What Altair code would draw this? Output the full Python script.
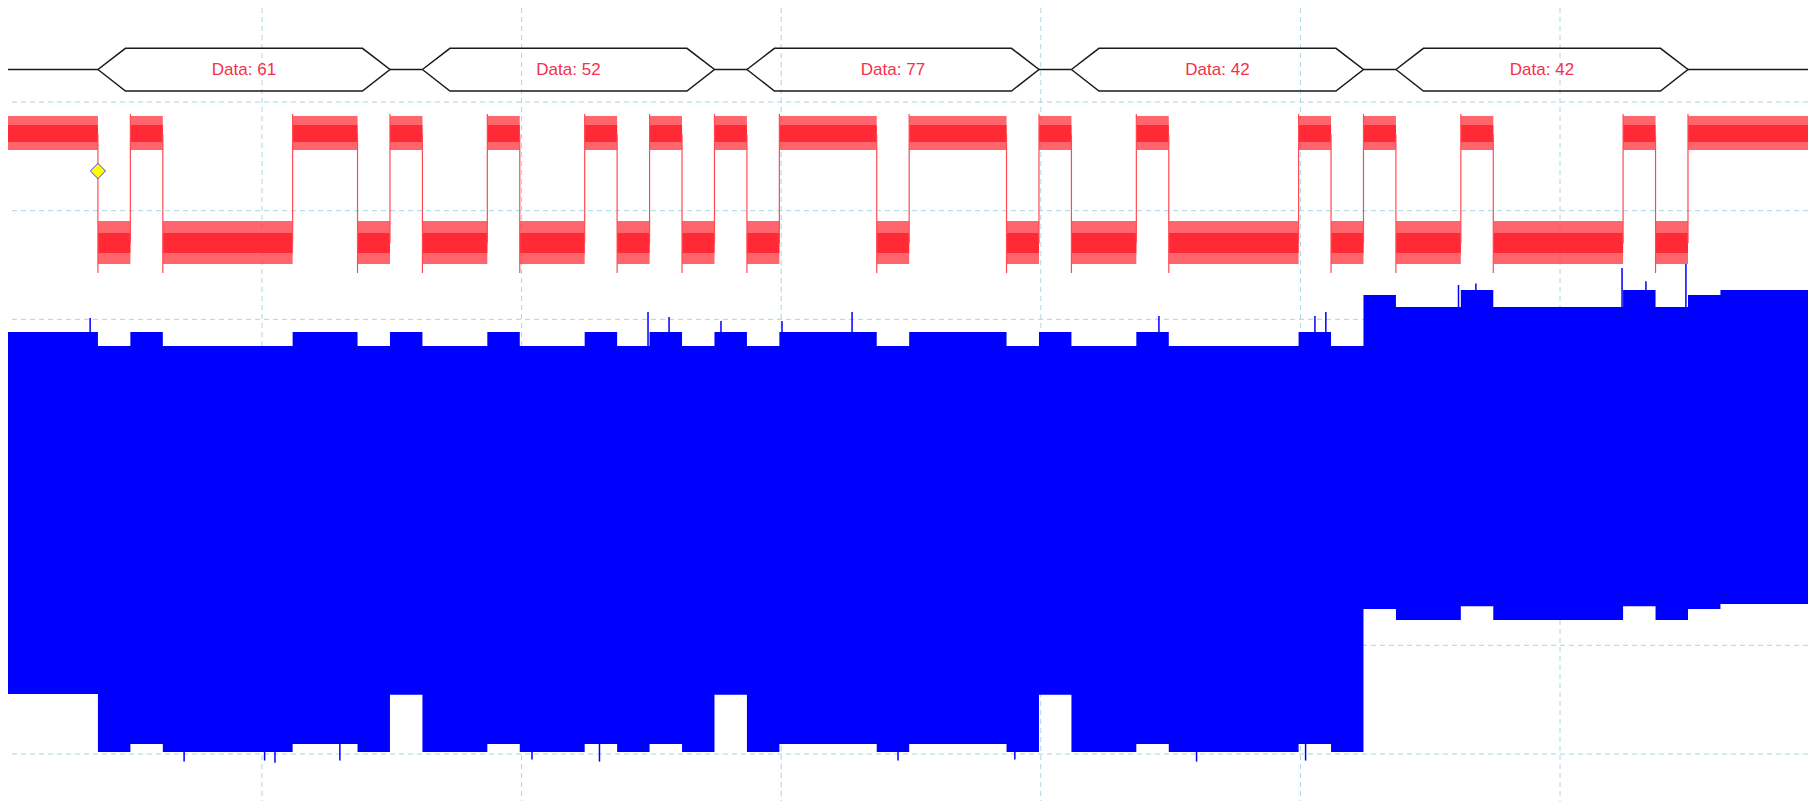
import altair as alt
import pandas as pd

# ---------------- data ----------------
# decoded UART bytes shown in the bus row (hex), frame start times (ms)
BYTE_LABELS = ["61", "52", "77", "42", "42"]
FRAME_START_MS = [0.368, 1.618, 2.868, 4.118, 5.368]
BIT_MS = 0.125          # 8 kBd
HEX_SLANT_MS = 0.106
STEP_MS = 5.243         # time where the blue envelope steps up

# visible window (ms / divisions)
T_MIN, T_MAX = 0.0216, 6.9553
V_MIN, V_MAX = -0.4325, 6.865

GRID_T = [1, 2, 3, 4, 5, 6]
GRID_V = [0, 1, 2, 3, 4, 5, 6]

# bus row
BUS_MID, BUS_TOP, BUS_BOT = 6.299, 6.494, 6.101

# red channel bands (divisions)
RED_OUTER = {1: (5.558, 5.871), 0: (4.509, 4.905)}
RED_CORE = {1: (5.632, 5.788), 0: (4.611, 4.795)}
EDGE_FALL = (5.70, 4.426)
EDGE_RISE = (4.70, 5.889)

# blue envelope levels (divisions)
BLUE_TOP_LEFT = {"idle": 3.883, "stop": 3.883, "high": 3.883, "low": 3.754}
BLUE_BOT_LEFT = {"idle": 0.552, "stop": 0.545, "high": 0.092, "low": 0.018}
BLUE_TOP_RIGHT = {"idle": 4.270, "stop": 4.224, "high": 4.270, "low": 4.113}
BLUE_BOT_RIGHT = {"idle": 1.380, "stop": 1.334, "high": 1.360, "low": 1.233}

# individual spikes on the blue envelope
SPIKE_TOP_T = [0.338, 2.487, 2.568, 2.768, 3.003, 3.273, 4.455, 5.056, 5.098,
               5.609, 5.676, 6.239, 6.331, 6.485]
SPIKE_TOP_V = [4.012, 4.067, 4.021, 3.985, 3.985, 4.067, 4.030, 4.030, 4.067,
               4.316, 4.330, 4.472, 4.350, 4.509]
SPIKE_BOT_T = [0.7, 1.01, 1.05, 1.3, 2.04, 2.3, 3.45, 3.9, 4.6, 5.02]
SPIKE_BOT_V = [-0.07, -0.06, -0.08, -0.06, -0.05, -0.07, -0.06, -0.05, -0.07, -0.06]

TRIGGER_T, TRIGGER_V = 0.368, 5.365

RED = "#ff2a35"
BLUE = "#0000ff"
GRID = "#a9d6e5"

# ---------------- build segments from the decoded bytes ----------------
segs = [(T_MIN, FRAME_START_MS[0], 1, "idle")]
for lab, s in zip(BYTE_LABELS, FRAME_START_MS):
    val = int(lab, 16)
    segs.append((s, s + BIT_MS, 0, "start"))
    for i in range(8):
        segs.append((s + BIT_MS * (1 + i), s + BIT_MS * (2 + i), (val >> i) & 1, "data"))
    segs.append((s + BIT_MS * 9, s + BIT_MS * 10, 1, "stop"))
segs.append((FRAME_START_MS[-1] + BIT_MS * 10, T_MAX, 1, "idle"))

red_rows, blue_rows, edge_rows = [], [], []
prev = None
for t0, t1, lvl, kind in segs:
    red_rows.append(dict(t=t0, o0=RED_OUTER[lvl][0], o1=RED_OUTER[lvl][1],
                         c0=RED_CORE[lvl][0], c1=RED_CORE[lvl][1]))
    key = kind if kind in ("idle", "stop") else ("high" if lvl else "low")
    if t0 < STEP_MS - 1e-6:
        top, bot = BLUE_TOP_LEFT[key], BLUE_BOT_LEFT[key]
    else:
        top, bot = BLUE_TOP_RIGHT[key], BLUE_BOT_RIGHT[key]
    blue_rows.append(dict(t=t0, top=top, bot=bot))
    if prev is not None and prev != lvl:
        a, b = EDGE_FALL if prev == 1 else EDGE_RISE
        edge_rows.append(dict(t=t0, a=a, b=b))
    prev = lvl
# closing points at the right edge
red_rows.append(dict(red_rows[-1], t=T_MAX))
blue_rows.append(dict(blue_rows[-1], t=T_MAX))

red_df = pd.DataFrame(red_rows)
blue_df = pd.DataFrame(blue_rows)
edge_df = pd.DataFrame(edge_rows)

hex_rows, bus_rows, label_rows = [], [], []
last_end = T_MIN
for k, (lab, s) in enumerate(zip(BYTE_LABELS, FRAME_START_MS)):
    e = s + BIT_MS * 9
    pts = [(s, BUS_MID), (s + HEX_SLANT_MS, BUS_TOP), (e - HEX_SLANT_MS, BUS_TOP),
           (e, BUS_MID), (e - HEX_SLANT_MS, BUS_BOT), (s + HEX_SLANT_MS, BUS_BOT),
           (s, BUS_MID)]
    for j, (t, v) in enumerate(pts):
        hex_rows.append(dict(frame=k, order=j, t=t, v=v))
    bus_rows.append(dict(t0=last_end, t1=s, v=BUS_MID))
    last_end = e
    label_rows.append(dict(t=(s + e) / 2, v=BUS_MID, text="Data: " + lab))
bus_rows.append(dict(t0=last_end, t1=T_MAX, v=BUS_MID))

hex_df = pd.DataFrame(hex_rows)
bus_df = pd.DataFrame(bus_rows)
label_df = pd.DataFrame(label_rows)

xs = alt.Scale(domain=[T_MIN, T_MAX], nice=False, zero=False)
ys = alt.Scale(domain=[V_MIN, V_MAX], nice=False, zero=False)

def X(f):
    return alt.X(f, type="quantitative", scale=xs, axis=None)

def Y(f):
    return alt.Y(f, type="quantitative", scale=ys, axis=None)

grid_v = alt.Chart(pd.DataFrame({"t": GRID_T})).mark_rule(
    color=GRID, strokeWidth=1, strokeDash=[5, 4]).encode(x=X("t"))
grid_h = alt.Chart(pd.DataFrame({"v": GRID_V})).mark_rule(
    color=GRID, strokeWidth=1, strokeDash=[5, 4]).encode(y=Y("v"))

blue = alt.Chart(blue_df).mark_area(color=BLUE, interpolate="step-after", opacity=1).encode(
    x=X("t"), y=Y("top"), y2="bot")
spk_top = alt.Chart(pd.DataFrame({"t": SPIKE_TOP_T, "v": SPIKE_TOP_V})).mark_rule(
    color=BLUE, strokeWidth=1.5).encode(x=X("t"), y=Y("v"), y2=alt.datum(3.5))
spk_bot = alt.Chart(pd.DataFrame({"t": SPIKE_BOT_T, "v": SPIKE_BOT_V})).mark_rule(
    color=BLUE, strokeWidth=1.5).encode(x=X("t"), y=Y("v"), y2=alt.datum(0.3))

red_outer = alt.Chart(red_df).mark_area(color=RED, opacity=0.72, interpolate="step-after").encode(
    x=X("t"), y=Y("o0"), y2="o1")
red_core = alt.Chart(red_df).mark_area(color=RED, opacity=1, interpolate="step-after").encode(
    x=X("t"), y=Y("c0"), y2="c1")
edges = alt.Chart(edge_df).mark_rule(color="#ff4a52", strokeWidth=1.2).encode(
    x=X("t"), y=Y("a"), y2="b")

bus = alt.Chart(bus_df).mark_rule(color="#1a1a1a", strokeWidth=1.5).encode(
    x=X("t0"), x2="t1", y=Y("v"))
hexes = alt.Chart(hex_df).mark_line(color="#1a1a1a", strokeWidth=1.5).encode(
    x=X("t"), y=Y("v"), detail="frame:N", order="order:Q")
labels = alt.Chart(label_df).mark_text(
    font="Liberation Sans", fontSize=17, color="#f5304a", baseline="middle",
    align="center").encode(x=X("t"), y=Y("v"), text="text:N")

trigger = alt.Chart(pd.DataFrame({"t": [TRIGGER_T], "v": [TRIGGER_V]})).mark_point(
    shape="diamond", size=230, filled=True, fill="#ffff00", stroke="#3a3aff",
    strokeWidth=1, opacity=1).encode(x=X("t"), y=Y("v"))

chart = alt.layer(
    grid_v, grid_h, blue, spk_top, spk_bot, red_outer, red_core, edges,
    bus, hexes, labels, trigger
).properties(
    width=1800, height=793, padding=0, autosize="none", background="white"
).configure_view(stroke=None)

chart.save("out.html", embed_options={"renderer": "svg", "actions": False})
